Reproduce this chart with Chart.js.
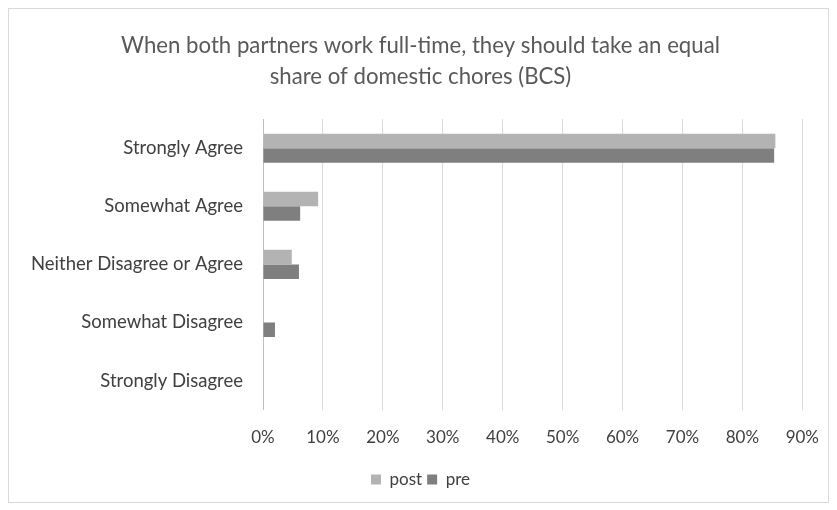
<!DOCTYPE html>
<html>
<head>
<meta charset="utf-8">
<script src="https://cdn.jsdelivr.net/npm/chart.js@4/dist/chart.umd.min.js"></script>
<style>
  html, body { margin: 0; padding: 0; background: #ffffff; }
  #wrap { width: 837px; height: 510px; position: relative; }
</style>
</head>
<body>
<div id="wrap"><canvas id="c" width="837" height="510"></canvas></div>
<script>
// Response categories (top to bottom)
const categories = [
  'Strongly Agree',
  'Somewhat Agree',
  'Neither Disagree or Agree',
  'Somewhat Disagree',
  'Strongly Disagree'
];
// Share of respondents, percent
const postValues = [85.5, 9.2, 4.8, 0, 0];
const preValues  = [85.3, 6.2, 6.0, 2.0, 0];
// x-axis ticks, percent
const xTicks = [0, 10, 20, 30, 40, 50, 60, 70, 80, 90];

const titleLines = [
  'When both partners work full-time, they should take an equal',
  'share of domestic chores (BCS)'
];

const FONT = 'Lato, "Open Sans", "Liberation Sans", sans-serif';

// faint frame around the whole chart
const framePlugin = {
  id: 'frame',
  beforeDraw(chart) {
    const ctx = chart.ctx;
    ctx.save();
    ctx.strokeStyle = '#d9d9d9';
    ctx.lineWidth = 1;
    ctx.strokeRect(8.5, 8.5, 820, 494);
    ctx.restore();
  }
};

new Chart(document.getElementById('c'), {
  type: 'bar',
  data: {
    labels: categories,
    datasets: [
      { label: 'post', data: postValues, backgroundColor: '#b3b3b3', borderWidth: 0 },
      { label: 'pre',  data: preValues,  backgroundColor: '#7f7f7f', borderWidth: 0 }
    ]
  },
  options: {
    indexAxis: 'y',
    responsive: false,
    animation: false,
    devicePixelRatio: 1,
    layout: { padding: { left: 24, right: 20, top: 30, bottom: 12 } },
    datasets: { bar: { categoryPercentage: 0.5, barPercentage: 1.0 } },
    scales: {
      x: {
        min: 0, max: 90,
        afterBuildTicks(scale) { scale.ticks = xTicks.map(v => ({ value: v })); },
        ticks: {
          callback: v => v + '%',
          color: '#404040',
          font: { family: FONT, size: 17 },
          padding: 18
        },
        grid: { color: '#d9d9d9', drawTicks: false },
        border: { display: false }
      },
      y: {
        afterFit(scale) { scale.width = 239; },
        ticks: {
          color: '#404040',
          font: { family: FONT, size: 18.5 },
          padding: 20
        },
        grid: { display: false, drawTicks: false },
        border: { display: true, color: '#bfbfbf' }
      },
      // empty right-hand gutter so the plot ends at the 90% line
      yRight: {
        type: 'category',
        position: 'right',
        afterFit(scale) { scale.width = 14; },
        ticks: { display: false },
        grid: { display: false, drawTicks: false },
        border: { display: false }
      }
    },
    plugins: {
      title: {
        display: true,
        text: titleLines,
        color: '#595959',
        font: { family: FONT, size: 22.2, weight: 'normal', lineHeight: 1.4 },
        padding: { top: 0, bottom: 27 }
      },
      legend: {
        position: 'bottom',
        labels: {
          color: '#404040',
          font: { family: FONT, size: 17 },
          boxWidth: 10, boxHeight: 10,
          padding: 5
        }
      },
      tooltip: { enabled: false }
    }
  },
  plugins: [framePlugin]
});
</script>
</body>
</html>
